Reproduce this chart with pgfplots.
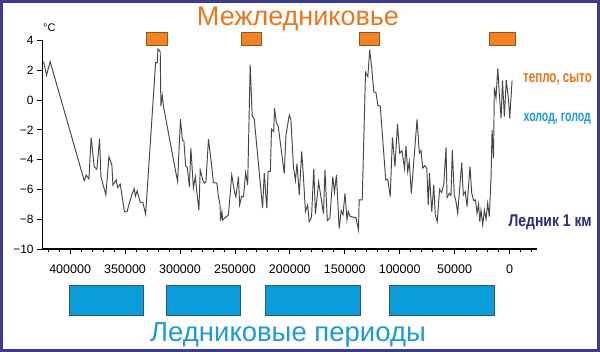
\documentclass[border=0pt]{standalone}
\usepackage{pgfplots}
\pgfplotsset{compat=1.18}
\usepackage{fontspec}
\setmainfont{Liberation Sans}
\usepackage{graphicx}
\definecolor{orT}{HTML}{E8761E}
\definecolor{orB}{HTML}{F08423}
\definecolor{orE}{HTML}{9A5218}
\definecolor{blB}{HTML}{0A9CDB}
\definecolor{blE}{HTML}{35556F}
\definecolor{blT}{HTML}{1C9AD6}
\definecolor{navy}{HTML}{2B2A7E}
\definecolor{frame}{HTML}{3C3B8E}
\definecolor{curve}{HTML}{454545}
\begin{document}
\begin{tikzpicture}[x=1pt,y=1pt]
\useasboundingbox (0,0) rectangle (600,352);
\begin{axis}[
  at={(42.7pt,103pt)}, anchor=south west,
  scale only axis, width=494.3pt, height=208.5pt,
  xmin=-25000, xmax=425000, ymin=-10, ymax=4,
  x dir=reverse,
  axis lines=left, axis line style={black, line width=1.1pt, -},
  clip=false,
  scaled x ticks=false, scaled y ticks=false,
  tick align=outside,
  major tick length=5.5pt, minor tick length=3.5pt,
  tick style={black, line width=0.8pt},
  xtick={0,50000,100000,150000,200000,250000,300000,350000,400000},
  xticklabels={0,50000,100000,150000,200000,250000,300000,350000,400000},
  minor xtick={-20000,-10000,...,420000},
  ytick={-10,-8,-6,-4,-2,0,2,4},
  yticklabels={−10,−8,−6,−4,−2,0,2,4},
  xticklabel style={font=\fontsize{12.5}{12.5}\selectfont, yshift=-7pt},
  yticklabel style={font=\fontsize{12}{12}\selectfont},
]
\addplot[curve, line width=0.95pt] coordinates {
(424200,2.58) (421500,1.68) (418200,2.58) (387200,-5.41) (385400,-5.03)
(382900,-5.30) (380900,-2.50) (378100,-4.47) (375700,-4.65) (373200,-2.59)
(372000,-5.14) (367500,-6.37) (364700,-3.80) (362000,-4.36) (361100,-5.70)
(358100,-5.36) (356800,-5.87) (354400,-5.65) (350600,-7.49) (348300,-7.51)
(344100,-6.40) (341700,-5.95) (340600,-6.46) (339000,-6.10) (336300,-6.85)
(333800,-6.88) (331300,-7.66) (322200,2.51) (320700,2.51) (320100,3.41)
(318000,3.25) (317400,-0.40) (316200,0.34) (315100,-0.40) (302200,-5.48)
(299600,-1.29) (297800,-2.68) (296400,-2.79) (294900,-4.42) (293400,-4.51)
(291400,-5.83) (290100,-3.22) (287800,-5.90) (286000,-5.14) (284800,-6.10)
(282800,-7.40) (281600,-4.69) (279300,-5.36) (277900,-5.58) (276400,-5.50)
(274100,-2.63) (271800,-4.00) (269600,-5.54) (266400,-5.58) (265000,-6.50)
(263600,-7.00) (263000,-8.10) (261800,-7.49) (261200,-8.05) (255900,-7.71)
(252900,-5.03) (250400,-6.15) (249100,-6.50) (246800,-5.14) (245700,-7.04)
(243900,-6.48) (242200,-6.50) (240200,-4.87) (238400,-5.70) (236100,2.38)
(234300,-1.05) (232400,-1.28) (224800,-7.26) (223300,-4.90) (221000,-7.26)
(219800,-4.80) (217700,-4.77) (216700,-1.95) (214700,-2.12) (214000,-0.55)
(212200,-1.55) (210600,-1.74) (205100,-4.92) (203500,-2.34) (200500,-1.00)
(199000,-1.34) (196700,-4.50) (194900,-5.40) (193500,-4.27) (191400,-6.37)
(189200,-3.44) (187600,-5.20) (185800,-7.49) (183800,-7.04) (182400,-8.16)
(180300,-7.90) (178200,-4.60) (176700,-7.65) (173800,-5.50) (169400,-7.62)
(168000,-4.69) (165900,-8.10) (163500,-7.90) (160900,-5.14) (159400,-6.20)
(157600,-5.03) (155100,-8.63) (153200,-7.43) (151600,-7.70) (149800,-6.26)
(148000,-8.03) (146800,-7.47) (145300,-7.80) (143000,-7.85) (139800,-7.90)
(137500,-8.72) (136900,-6.70) (134100,-6.70) (131100,1.87) (129000,1.57)
(127300,3.36) (125500,2.20) (123600,0.55) (121600,0.50) (119800,-0.37)
(117700,-0.40) (112700,-5.36) (110900,-5.32) (108600,-6.48) (106600,-2.50)
(104300,-4.47) (102000,-1.60) (100000,-3.57) (97900,-3.40) (95600,-4.60)
(94300,-3.08) (92700,-4.80) (91300,-4.13) (89400,-6.26) (84200,-1.30)
(82100,-3.57) (80600,-3.40) (79000,-4.58) (77000,-4.40) (75300,-4.60)
(74000,-7.04) (72900,-4.90) (70800,-7.50) (69000,-5.70) (67600,-7.71)
(65800,-8.16) (63700,-6.00) (61900,-6.20) (59900,-5.70) (57800,-3.17)
(56900,-6.55) (54800,-6.26) (53300,-6.40) (52100,-3.35) (50300,-6.37)
(48700,-6.82) (47200,-7.60) (43500,-4.20) (42100,-6.37) (40300,-6.15)
(38700,-7.15) (36000,-4.47) (34400,-6.26) (32600,-6.75) (31000,-6.70)
(29600,-7.60) (28200,-7.00) (27100,-8.16) (26000,-7.38) (24400,-8.38)
(22900,-7.38) (21400,-8.00) (19900,-6.93) (18400,-7.83) (16800,-5.14)
(15900,-2.00) (14600,-3.91) (13800,0.85) (12300,0.12) (10700,2.13)
(9100,0.20) (7700,-1.22) (6400,1.30) (4700,-1.11) (3000,1.35)
(900,0.00) (-200,-1.22) (-2300,1.30)
};
% interglacial boxes (top)
\draw[orE, line width=0.5pt, fill=orB] (axis cs:331000,4.57) rectangle (axis cs:311900,3.70);
\draw[orE, line width=0.5pt, fill=orB] (axis cs:244100,4.57) rectangle (axis cs:225900,3.70);
\draw[orE, line width=0.5pt, fill=orB] (axis cs:136800,4.57) rectangle (axis cs:118500,3.70);
\draw[orE, line width=0.5pt, fill=orB] (axis cs:18300,4.57) rectangle (axis cs:-4800,3.70);
% glacial boxes (bottom)
\draw[blE, line width=0.5pt, fill=blB] (axis cs:401200,-12.41) rectangle (axis cs:333800,-14.43);
\draw[blE, line width=0.5pt, fill=blB] (axis cs:312800,-12.41) rectangle (axis cs:245400,-14.43);
\draw[blE, line width=0.5pt, fill=blB] (axis cs:222700,-12.41) rectangle (axis cs:136200,-14.43);
\draw[blE, line width=0.5pt, fill=blB] (axis cs:109800,-12.41) rectangle (axis cs:14000,-14.43);
\end{axis}
\node[anchor=base west, font=\fontsize{11}{11}\selectfont, inner sep=0] at (43,320) {\textdegree C};
\node[anchor=base, text=orT, font=\fontsize{27}{27}\selectfont, inner sep=0] at (298,326) {Межледниковье};
\node[anchor=base, text=blT, font=\fontsize{27.5}{27.5}\selectfont, inner sep=0] at (288,10) {Ледниковые периоды};
\node[anchor=base east, text=orT, inner sep=0] at (592,269) {\scalebox{0.7}[1]{\fontsize{16.5}{16.5}\selectfont\bfseries тепло, сыто}};
\node[anchor=base east, text=blT, inner sep=0] at (591,230) {\scalebox{0.68}[1]{\fontsize{15.5}{15.5}\selectfont\bfseries холод, голод}};
\node[anchor=base east, text=navy, inner sep=0] at (592,125) {\scalebox{0.82}[1]{\fontsize{17}{17}\selectfont\bfseries Ледник 1 км}};
\draw[frame, line width=3pt] (1.5,1.5) rectangle (598.5,350.5);
\end{tikzpicture}
\end{document}
